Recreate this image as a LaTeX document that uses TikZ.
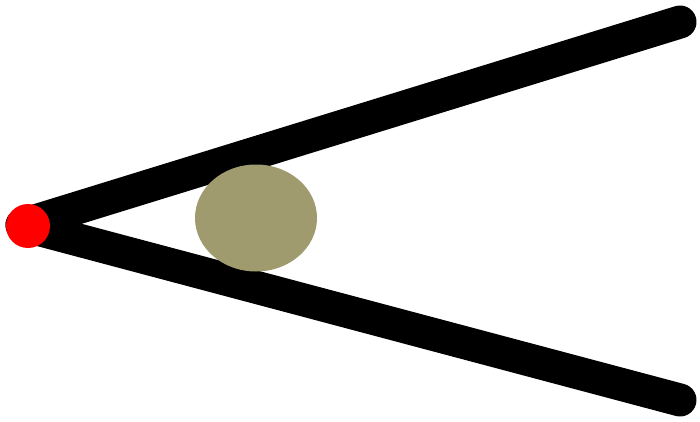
\documentclass[tikz,border=0pt]{standalone}
\usetikzlibrary{shapes.geometric}
\definecolor{olivegray}{HTML}{A09B6E}
\definecolor{tipred}{HTML}{FF0000}

\begin{document}
\begin{tikzpicture}[x=1pt,y=-1pt,
  arm/.style={line width=33pt,black,line cap=round},
  ball/.style={ellipse,fill=olivegray,minimum width=122pt,minimum height=107pt,inner sep=0pt},
  tip/.style={circle,fill=tipred,minimum size=44pt,inner sep=0pt}]
\useasboundingbox (0,0) rectangle (700,422);
\coordinate (v) at (22,225);
\coordinate (up) at (680,22);
\coordinate (dn) at (680,400);
\draw[arm] (v)--(up);
\draw[arm] (v)--(dn);
\node[ball] (b) at (256,218) {};
\node[tip] (r) at (28,226) {};
\end{tikzpicture}
\end{document}
